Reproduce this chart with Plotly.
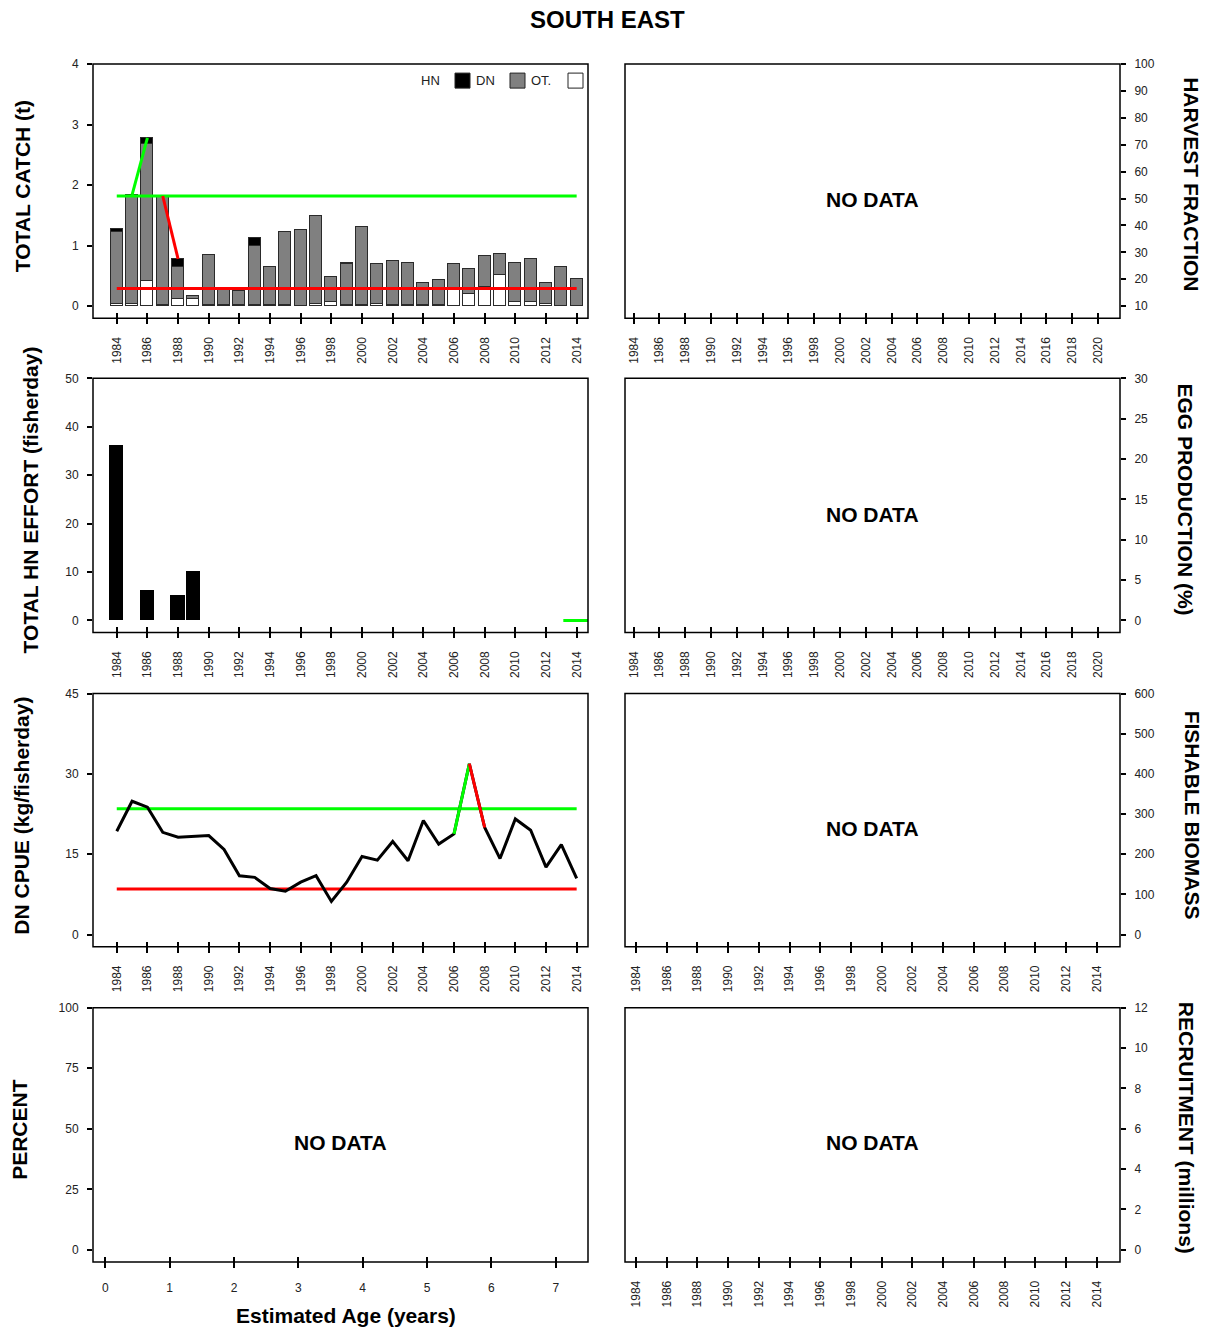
import plotly.graph_objects as go

# ---------------- data ----------------
years = list(range(1984, 2015))

# total catch (t) split by sector
catch_hn = [0.05, 0, 0.10, 0, 0.13, 0.01, 0, 0, 0, 0.14, 0, 0, 0, 0, 0, 0.03,
            0, 0, 0, 0, 0, 0, 0, 0, 0, 0, 0, 0, 0, 0, 0]
catch_dn = [1.19, 1.81, 2.27, 1.80, 0.53, 0.05, 0.83, 0.25, 0.24, 0.98, 0.64, 1.22,
            1.25, 1.46, 0.42, 0.68, 1.30, 0.66, 0.73, 0.70, 0.36, 0.41, 0.44, 0.41,
            0.52, 0.34, 0.64, 0.72, 0.35, 0.65, 0.44]
catch_ot = [0.04, 0.03, 0.41, 0.02, 0.12, 0.11, 0.02, 0.01, 0.01, 0.01, 0.01, 0.01,
            0.00, 0.03, 0.06, 0.01, 0.01, 0.04, 0.01, 0.01, 0.02, 0.02, 0.26, 0.20,
            0.31, 0.52, 0.07, 0.06, 0.03, 0.00, 0.00]
catch_upper = 1.82
catch_lower = 0.29
catch_up_years = [1985, 1986]
catch_down_years = [1987, 1988]

effort_years = [1984, 1986, 1988, 1989]
effort_vals = [36, 6, 5, 10]
effort_ref_years = [2013.13, 2014.87]
effort_ref_vals = [0, 0]

cpue = [19.3, 24.9, 23.8, 19.1, 18.2, 18.4, 18.5, 15.9, 11.0, 10.7, 8.6, 8.1, 9.8,
        11.0, 6.2, 9.8, 14.6, 13.9, 17.4, 13.8, 21.3, 16.9, 18.8, 31.9, 20.0, 14.2,
        21.6, 19.5, 12.6, 16.8, 10.5]
cpue_upper = 23.5
cpue_lower = 8.5
cpue_up_years = [2006, 2007]
cpue_down_years = [2007, 2008]

year_ticks_long = list(range(1984, 2021, 2))
year_ticks_short = list(range(1984, 2015, 2))
age_ticks = list(range(0, 8))
catch_ticks = [0, 1, 2, 3, 4]
harvest_ticks = list(range(10, 101, 10))
effort_ticks = list(range(0, 51, 10))
egg_ticks = list(range(0, 31, 5))
cpue_ticks = [0, 15, 30, 45]
biomass_ticks = list(range(0, 601, 100))
percent_ticks = [0, 25, 50, 75, 100]
recruit_ticks = list(range(0, 13, 2))

legend_labels = ["HN", "DN", "OT."]

# ---------------- geometry helpers ----------------
W, H = 1212, 1331
# the page is shown with an 8px top offset and fitted back to the window height,
# so target pixel rows are mapped through that transform
TOP_OFF = 8
VSCALE = (H + TOP_OFF) / H
FONT = "Liberation Sans, Arial, sans-serif"


def fx(p):
    return p / W


def fy(p):
    return 1 - (p * VSCALE - TOP_OFF) / H


COLS = {"L": (93, 588), "R": (625, 1120)}
ROWS = [(65, 319), (379, 633), (694, 947), (1008, 1262)]

panels = [
    dict(col="L", row=0, xr=[1982.45, 2014.74], xt=year_ticks_short, yr=[-0.2, 4], yt=catch_ticks, side="left"),
    dict(col="R", row=0, xr=[1983.33, 2021.7], xt=year_ticks_long, yr=[5.5, 100], yt=harvest_ticks, side="right"),
    dict(col="L", row=1, xr=[1982.45, 2014.74], xt=year_ticks_short, yr=[-2.5, 50], yt=effort_ticks, side="left"),
    dict(col="R", row=1, xr=[1983.33, 2021.7], xt=year_ticks_long, yr=[-1.5, 30], yt=egg_ticks, side="right"),
    dict(col="L", row=2, xr=[1982.45, 2014.74], xt=year_ticks_short, yr=[-2.25, 45], yt=cpue_ticks, side="left"),
    dict(col="R", row=2, xr=[1983.28, 2015.52], xt=year_ticks_short, yr=[-30, 600], yt=biomass_ticks, side="right"),
    dict(col="L", row=3, xr=[-0.19, 7.5], xt=age_ticks, yr=[-5, 100], yt=percent_ticks, side="left", flat=True),
    dict(col="R", row=3, xr=[1983.28, 2015.52], xt=year_ticks_short, yr=[-0.6, 12], yt=recruit_ticks, side="right"),
]

fig = go.Figure()
layout = dict(
    width=W, height=H,
    margin=dict(l=0, r=0, t=0, b=0),
    paper_bgcolor="white", plot_bgcolor="white",
    showlegend=False, barmode="stack", bargap=0,
    font=dict(family=FONT, color="#222"),
)
shapes = []
annotations = []

for i, p in enumerate(panels, start=1):
    l, r = COLS[p["col"]]
    t, b = ROWS[p["row"]]
    xa = "xaxis" if i == 1 else f"xaxis{i}"
    ya = "yaxis" if i == 1 else f"yaxis{i}"
    layout[xa] = dict(
        domain=[fx(l), fx(r)], range=p["xr"], anchor="free", position=fy(b - 6),
        tickmode="array", tickvals=p["xt"], ticktext=[str(v) for v in p["xt"]],
        ticks="outside", ticklen=11, tickwidth=1.5, tickcolor="black",
        tickangle=0 if p.get("flat") else -90,
        ticklabelstandoff=10 if p.get("flat") else 8,
        tickfont=dict(size=12, family=FONT, color="#222"),
        showline=False, showgrid=False, zeroline=False, fixedrange=True,
    )
    layout[ya] = dict(
        domain=[fy(b), fy(t)], range=p["yr"], anchor=f"x{i}", side=p["side"],
        tickmode="array", tickvals=p["yt"], ticktext=[str(v) for v in p["yt"]],
        ticks="outside", ticklen=5, tickwidth=1.5, tickcolor="black",
        ticklabelstandoff=6,
        tickfont=dict(size=12, family=FONT, color="#222"),
        showline=False, showgrid=False, zeroline=False, fixedrange=True,
    )
    shapes.append(dict(type="rect", xref="paper", yref="paper",
                       x0=fx(l), x1=fx(r), y0=fy(b), y1=fy(t),
                       line=dict(color="black", width=1.5), fillcolor="rgba(0,0,0,0)", layer="above"))
    fig.add_trace(go.Scatter(x=[], y=[], xaxis=f"x{i}", yaxis=f"y{i}", hoverinfo="skip"))

# ---------------- catch panel ----------------
bar_line = dict(color="#2a2a2a", width=1)
fig.add_trace(go.Bar(x=years, y=[v if v > 0 else None for v in catch_ot], width=0.78,
                     marker=dict(color="white", line=bar_line), xaxis="x", yaxis="y", name="OT."))
fig.add_trace(go.Bar(x=years, y=catch_dn, width=0.78,
                     marker=dict(color="#808080", line=bar_line), xaxis="x", yaxis="y", name="DN"))
fig.add_trace(go.Bar(x=years, y=[v if v > 0 else None for v in catch_hn], width=0.78,
                     marker=dict(color="black", line=bar_line), xaxis="x", yaxis="y", name="HN"))

catch_total = [a + b + c for a, b, c in zip(catch_hn, catch_dn, catch_ot)]
fig.add_trace(go.Scatter(x=[years[0], years[-1]], y=[catch_upper, catch_upper], mode="lines",
                         line=dict(color="#00ff00", width=3), xaxis="x", yaxis="y"))
fig.add_trace(go.Scatter(x=[years[0], years[-1]], y=[catch_lower, catch_lower], mode="lines",
                         line=dict(color="#ff0000", width=3), xaxis="x", yaxis="y"))
fig.add_trace(go.Scatter(x=catch_up_years, y=[catch_total[years.index(v)] for v in catch_up_years],
                         mode="lines", line=dict(color="#00ff00", width=3), xaxis="x", yaxis="y"))
fig.add_trace(go.Scatter(x=catch_down_years, y=[catch_upper, catch_total[years.index(catch_down_years[1])]],
                         mode="lines", line=dict(color="#ff0000", width=3), xaxis="x", yaxis="y"))

leg_text_x = [430, 485, 541]
leg_box_x = [(455, 470), (510, 525), (568, 583)]
leg_box_col = ["black", "#808080", "white"]
for lab, tx, (bx0, bx1), col in zip(legend_labels, leg_text_x, leg_box_x, leg_box_col):
    annotations.append(dict(x=fx(tx), y=fy(81), xref="paper", yref="paper", text=lab, showarrow=False,
                            font=dict(size=13, family=FONT, color="#222"), xanchor="center", yanchor="middle"))
    shapes.append(dict(type="rect", xref="paper", yref="paper", x0=fx(bx0), x1=fx(bx1),
                       y0=fy(89), y1=fy(74), fillcolor=col, line=dict(color="#222", width=1)))

# ---------------- effort panel ----------------
fig.add_trace(go.Bar(x=effort_years, y=effort_vals, width=0.87,
                     marker=dict(color="black", line=dict(color="black", width=1)), xaxis="x3", yaxis="y3"))
fig.add_trace(go.Scatter(x=effort_ref_years, y=effort_ref_vals, mode="lines",
                         line=dict(color="#00ff00", width=3), xaxis="x3", yaxis="y3", cliponaxis=False))

# ---------------- CPUE panel ----------------
fig.add_trace(go.Scatter(x=[years[0], years[-1]], y=[cpue_upper, cpue_upper], mode="lines",
                         line=dict(color="#00ff00", width=3), xaxis="x5", yaxis="y5"))
fig.add_trace(go.Scatter(x=[years[0], years[-1]], y=[cpue_lower, cpue_lower], mode="lines",
                         line=dict(color="#ff0000", width=3), xaxis="x5", yaxis="y5"))
fig.add_trace(go.Scatter(x=years, y=cpue, mode="lines", line=dict(color="black", width=3),
                         xaxis="x5", yaxis="y5"))
fig.add_trace(go.Scatter(x=cpue_up_years, y=[cpue[years.index(v)] for v in cpue_up_years], mode="lines",
                         line=dict(color="#00ff00", width=3), xaxis="x5", yaxis="y5"))
fig.add_trace(go.Scatter(x=cpue_down_years, y=[cpue[years.index(v)] for v in cpue_down_years], mode="lines",
                         line=dict(color="#ff0000", width=3), xaxis="x5", yaxis="y5"))


def txt(x, y, s, size=21, angle=0):
    annotations.append(dict(x=fx(x), y=fy(y), xref="paper", yref="paper", text=f"<b>{s}</b>",
                            showarrow=False, textangle=angle, xanchor="center", yanchor="middle",
                            font=dict(size=size, family=FONT, color="black")))


txt(607, 20, "SOUTH EAST", size=24)
txt(22, 187, "TOTAL CATCH (t)", angle=-90)
txt(30, 501, "TOTAL HN EFFORT (fisherday)", angle=-90)
txt(22, 816, "DN CPUE (kg/fisherday)", angle=-90)
txt(20, 1130, "PERCENT", angle=-90)
txt(1192, 185, "HARVEST FRACTION", angle=90)
txt(1186, 500, "EGG PRODUCTION (%)", angle=90)
txt(1192, 815, "FISHABLE BIOMASS", angle=90)
txt(1186, 1128, "RECRUITMENT (millions)", angle=90)
txt(346, 1316, "Estimated Age (years)")
for (nx, ny) in [(872, 200), (872, 515), (872, 829), (872, 1143), (340, 1143)]:
    txt(nx, ny, "NO DATA")

layout["shapes"] = shapes
layout["annotations"] = annotations
fig.update_layout(**layout)

fig.write_html("out.html", config={"displayModeBar": False},
               post_script="document.body.style.margin='0px';document.body.style.overflow='hidden';")
